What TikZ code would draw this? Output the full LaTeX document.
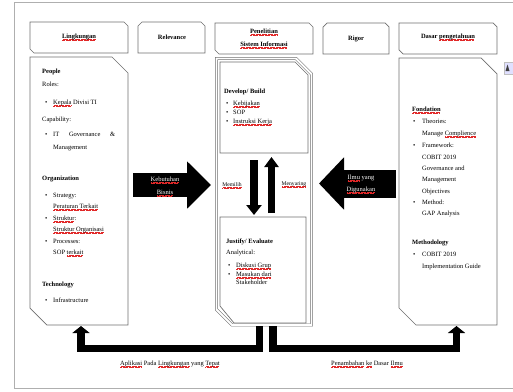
\documentclass[tikz,border=0pt]{standalone}
\usepackage{fontspec}
\setmainfont{Liberation Serif}
\usetikzlibrary{arrows.meta,calc}
\newsavebox\sqbox
\definecolor{wavered}{RGB}{225,40,40}
\newcommand\sq[1]{\sbox\sqbox{#1}\rlap{\raisebox{-1.8pt}{\textcolor{wavered}{\leaders\hbox{\rule{0.6pt}{0.28pt}\rule[0.3pt]{0.6pt}{0.28pt}}\hskip\wd\sqbox}}}\usebox\sqbox}
\newcommand\fs{\fontsize{6.5}{8}\selectfont}
\newcommand\fss{\fontsize{5.6}{7}\selectfont}
\newcommand\bl[1][8pt]{\makebox[#1][l]{\textbullet}}
\definecolor{edge}{RGB}{110,110,110}
\definecolor{frm}{RGB}{175,175,175}
\begin{document}
\begin{tikzpicture}[x=1pt,y=-1pt,
  outl/.style={draw=edge, line width=0.7pt, line join=miter},
  dbl/.style={draw=edge, line width=0.55pt, double=white, double distance=1.8pt, line join=miter},
  ghost/.style={inner sep=0pt, outer sep=0pt, draw=none},
  txt/.style={anchor=base west, inner sep=0pt, font=\fs},
  bld/.style={anchor=base west, inner sep=0pt, font=\fs\bfseries},
  hd/.style={anchor=base, inner sep=0pt, font=\fs\bfseries},
  ctxt/.style={anchor=base, inner sep=0pt, font=\fs},
  wtxt/.style={anchor=base, inner sep=0pt, font=\fs, text=white},
  blk/.style={draw=black, line join=miter}
]
\useasboundingbox (0,0) rectangle (513,391);

% outer frame
\draw[frm, line width=0.8pt] (514,2) -- (14,2) -- (14,388) -- (514,388);
% small layout icon
\draw[draw=gray!50, fill=blue!12, line width=0.4pt] (504,62) rectangle (514,74);
\fill[black!75] (505.5,71) -- (507.5,64.5) -- (509.5,71) -- cycle;

% header boxes
\draw[outl] (30,22) -- (124,22) -- (128,26) -- (128,53) -- (34,53) -- (30,49) -- cycle;
\draw[outl] (142,22) -- (201,22) -- (205,26) -- (205,53) -- (138,53) -- (138,26) -- cycle;
\draw[outl] (215,23) -- (309,23) -- (313,27) -- (313,54) -- (219,54) -- (215,50) -- cycle;
\draw[outl] (327,23) -- (385,23) -- (389,27) -- (389,54) -- (323,54) -- (323,27) -- cycle;
\draw[outl] (399,23) -- (493,23) -- (497,27) -- (497,54) -- (403,54) -- (399,50) -- cycle;

% big boxes
\draw[outl] (30,57) -- (112,57) -- (128,73) -- (128,325) -- (47,325) -- (30,308) -- cycle;
\draw[dbl] (216.5,58.5) -- (296,58.5) -- (311.5,74) -- (311.5,325) -- (232,325) -- (216.5,309.5) -- cycle;
\draw[outl] (220,62) -- (295,62) -- (308,75) -- (308,153) -- (220,153) -- cycle;
\draw[outl] (220,217) -- (306,217) -- (306,323) -- (234,323) -- (220,306) -- cycle;
\draw[outl] (399,58) -- (481,58) -- (497,74) -- (497,325) -- (416,325) -- (399,308) -- cycle;

% named box nodes
\node[ghost, minimum width=98pt, minimum height=268pt] (L) at (79,191) {};
\node[ghost, minimum width=98pt, minimum height=269pt] (C) at (264,191.5) {};
\node[ghost, minimum width=88pt, minimum height=91pt] (CT) at (264,107.5) {};
\node[ghost, minimum width=86pt, minimum height=106pt] (CB) at (263,270) {};
\node[ghost, minimum width=98pt, minimum height=267pt] (R) at (448,191.5) {};

% header texts
\node[hd] (h1) at (79,38) {\sq{Lingkungan}};
\node[hd] (h2) at (172,39) {Relevance};
\node[hd] (h3a) at (264,33) {\sq{Penelitian}};
\node[hd] (h3b) at (264,46) {\sq{Sistem Informasi}};
\node[hd] (h4) at (356,40) {Rigor};
\node[hd] (h5) at (448,38) {Dasar \sq{pengetahuan}};

% left box texts
\node[bld] (l1) at (42,73) {People};
\node[txt] (l2) at (42,86) {Roles:};
\node[txt] (l3) at (45,104) {\bl\sq{Kepala} Divisi TI};
\node[txt] (l4) at (42,121) {Capability:};
\node[txt] (l5) at (45,136) {\bl\hbox to 62pt{IT\hfill Governance\hfill\&}};
\node[txt] (l6) at (53,149) {Management};
\node[bld] (l7) at (42,180) {Organization};
\node[txt] (l8) at (45,197) {\bl Strategy:};
\node[txt] (l9) at (53,208) {\sq{Peraturan Terkait}};
\node[txt] (l10) at (45,220) {\bl\sq{Struktur}:};
\node[txt] (l11) at (53,231) {\sq{Struktur Organisasi}};
\node[txt] (l12) at (45,243) {\bl Processes:};
\node[txt] (l13) at (53,254) {SOP \sq{terkait}};
\node[bld] (l14) at (42,286) {Technology};
\node[txt] (l15) at (45,302) {\bl Infrastructure};

% centre texts
\node[bld] (c1) at (224,93) {Develop/ Build};
\node[txt] (c2) at (226,105) {\bl[7pt]\sq{Kebijakan}};
\node[txt] (c3) at (226,114) {\bl[7pt]SOP};
\node[txt] (c4) at (226,123) {\bl[7pt]\sq{Instruksi Kerja}};
\node[bld] (c5) at (226,243) {Justify/ Evaluate};
\node[txt] (c6) at (226,254) {Analytical:};
\node[txt] (c7) at (228,267) {\bl\sq{Diskusi Grup}};
\node[txt] (c8) at (228,276) {\bl\sq{Masukan dari}};
\node[txt] (c9) at (236,284) {Stakeholder};

% right box texts
\node[bld] (r1) at (412,111) {\sq{Fondation}};
\node[txt] (r2) at (413,123) {\bl[9pt]Theories:};
\node[txt] (r3) at (422,135) {Manage \sq{Complience}};
\node[txt] (r4) at (413,147) {\bl[9pt]Framework:};
\node[txt] (r5) at (422,159) {COBIT 2019};
\node[txt] (r6) at (422,170) {Governance and};
\node[txt] (r7) at (422,181) {Management};
\node[txt] (r8) at (422,193) {Objectives};
\node[txt] (r9) at (413,204) {\bl[9pt]Method:};
\node[txt] (r10) at (422,215) {GAP Analysis};
\node[bld] (r11) at (412,244) {Methodology};
\node[txt] (r12) at (413,256) {\bl[9pt]COBIT 2019};
\node[txt] (r13) at (422,268) {Implementation Guide};

% block arrows
\draw[blk, line width=24pt, -{Triangle[length=24pt,width=46pt]}]
  ($(L.east)+(5,-6)$) coordinate (ka) -- ($(ka -| C.west)+(-4,0)$);
\draw[blk, line width=28pt, -{Triangle[length=25pt,width=51pt]}]
  ($(R.west)+(-3,-8)$) coordinate (ia) -- ($(ia -| C.east)+(6,0)$);
\node[wtxt] (k1) at (165,181) {\sq{Kebutuhan}};
\node[wtxt] (k2) at (165,194) {\sq{Bisnis}};
\node[wtxt] (i1) at (361,179) {\sq{Ilmu} yang};
\node[wtxt] (i2) at (361,191) {\sq{Digunakan}};

% vertical arrows in centre
\draw[blk, line width=7.5pt, -{Triangle[length=10pt,width=15pt]}]
  ($(CT.south)+(-10,7)$) coordinate (d1) -- ($(d1 |- CB.north)+(0,-2)$);
\draw[blk, line width=7pt, -{Triangle[length=10pt,width=14pt]}]
  ($(CB.north)+(8.5,-4)$) coordinate (u1) -- ($(u1 |- CT.south)+(0,4)$);
\node[anchor=base, inner sep=0pt, font=\fss] (m1) at (232,186) {\sq{Memilih}};
\node[anchor=base, inner sep=0pt, font=\fss] (m2) at (294,185) {\sq{Menyaring}};

% bottom connectors
\draw[blk, line width=7.5pt, -{Triangle[length=7pt,width=17pt]}]
  ($(C.south)+(-4.5,0)$) -- ++(0,22.5) -| ($(L.south)+(2,1)$);
\draw[blk, line width=7.5pt, -{Triangle[length=7pt,width=17pt]}]
  ($(C.south)+(9,0)$) -- ++(0,22.5) -| ($(R.south)+(8.5,1)$);
\node[ctxt] (b1) at (170,365) {\sq{Aplikasi} Pada \sq{Lingkungan} yang \sq{Tepat}};
\node[ctxt] (b2) at (367,365) {\sq{Penambahan} \sq{ke} Dasar \sq{Ilmu}};
\end{tikzpicture}
\end{document}
